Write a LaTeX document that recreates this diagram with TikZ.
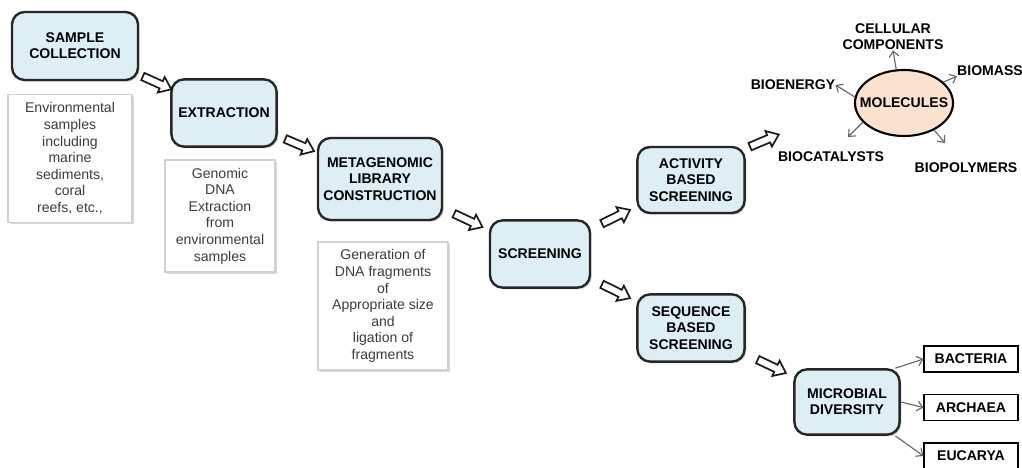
\documentclass[tikz,border=0pt]{standalone}
\usepackage{fontspec}
\setmainfont{Liberation Sans}
\usetikzlibrary{shapes.geometric,shapes.arrows,shadows,arrows.meta}

\definecolor{boxblue}{RGB}{221,238,245}
\definecolor{peach}{RGB}{251,226,206}
\definecolor{notegray}{RGB}{60,60,60}

\tikzset{
  stage/.style={draw=black!85, line width=1.7pt, rounded corners=9pt, fill=boxblue,
    align=center, inner sep=0pt, font=\fontsize{10}{11.5}\selectfont\bfseries,
    drop shadow={opacity=0.35, shadow xshift=1.2pt, shadow yshift=-1.2pt}},
  note/.style={draw=black!18, line width=0.8pt, fill=white, align=center, inner sep=0pt,
    text=notegray, font=\fontsize{10}{11.8}\selectfont,
    drop shadow={opacity=0.3, shadow xshift=1.5pt, shadow yshift=-1.5pt}},
  blockarr/.style={single arrow, draw=black!90, fill=white, line width=1.2pt,
    minimum height=0.78cm, single arrow head extend=3.2pt, single arrow tip angle=75,
    inner xsep=0pt, inner ysep=2.2pt, sloped, anchor=center},
  thinarr/.style={draw=black!60, line width=0.8pt, -{Straight Barb[length=4pt,width=7pt]}},
  product/.style={inner sep=0pt, align=center, font=\fontsize{10}{11.5}\selectfont\bfseries},
  leaf/.style={draw=black, line width=1.3pt, fill=white, minimum width=2.33cm,
    minimum height=0.65cm, inner sep=0pt, font=\fontsize{10}{11.5}\selectfont\bfseries}
}

\begin{document}
\begin{tikzpicture}[x=0.025cm, y=-0.025cm]
  \useasboundingbox (0,0) rectangle (1022,468);

  \node[stage, minimum width=3.15cm, minimum height=1.7cm] (sample) at (75,46) {SAMPLE\\COLLECTION};
  \node[stage, minimum width=2.63cm, minimum height=1.68cm] (extr) at (224,113) {EXTRACTION};
  \node[stage, minimum width=3.1cm, minimum height=2.05cm] (meta) at (380,179) {METAGENOMIC\\LIBRARY\\CONSTRUCTION};
  \node[stage, minimum width=2.5cm, minimum height=1.68cm] (screen) at (540,254) {SCREENING};
  \node[stage, minimum width=2.68cm, minimum height=1.65cm] (act) at (691,180) {ACTIVITY\\BASED\\SCREENING};
  \node[stage, minimum width=2.68cm, minimum height=1.68cm] (seq) at (691,328) {SEQUENCE\\BASED\\SCREENING};
  \node[stage, minimum width=2.63cm, minimum height=1.63cm] (mic) at (847,402) {MICROBIAL\\DIVERSITY};

  \node[note, minimum width=3.1cm, minimum height=3.18cm] (envnote) at (70,158.5)
    {Environmental\\samples\\including\\marine\\sediments,\\coral\\reefs, etc.,};
  \node[note, minimum width=2.75cm, minimum height=2.8cm] (dnanote) at (220,216)
    {Genomic\\DNA\\Extraction\\from\\environmental\\samples};
  \node[note, minimum width=3.25cm, minimum height=3.2cm] (libnote) at (383,306)
    {Generation of\\DNA fragments\\of\\Appropriate size\\and\\ligation of\\fragments};

  \node[ellipse, draw=black, line width=1.5pt, fill=peach, minimum width=2.45cm,
    minimum height=1.65cm, inner xsep=-7pt, inner ysep=0pt,
    font=\fontsize{10}{11.5}\selectfont\bfseries] (mol) at (904,103) {MOLECULES};
  \node[product] (cell) at (893,37) {CELLULAR\\COMPONENTS};
  \node[product] (bioen) at (793,85) {BIOENERGY};
  \node[product] (biomass) at (990,71) {BIOMASS};
  \node[product] (biocat) at (831,157) {BIOCATALYSTS};
  \node[product] (biopoly) at (966,168) {BIOPOLYMERS};
  \coordinate (bcend) at (848,137);
  \coordinate (bpend) at (945,143);

  \node[leaf] (bact) at (971,359) {BACTERIA};
  \node[leaf] (arch) at (971,407.5) {ARCHAEA};
  \node[leaf] (euc) at (971,456) {EUCARYA};

  \path (sample) -- node[blockarr] {} (extr);
  \path (extr) -- node[blockarr] {} (meta);
  \path (meta) -- node[blockarr] {} (screen);
  \path (screen) -- node[blockarr] {} (act);
  \path (screen) -- node[blockarr] {} (seq);
  \path (act.30) -- node[blockarr, pos=0.15] {} (mol.west);
  \path (seq) -- node[blockarr] {} (mic);

  \draw[thinarr] (mol.103) -- (cell.south);
  \draw[thinarr] (mol.173) -- (bioen.east);
  \draw[thinarr] (mol.28) -- (biomass.south west);
  \draw[thinarr] (mol.205) -- (bcend);
  \draw[thinarr] (mol.318) -- (bpend);

  \draw[thinarr] (mic.35) -- (bact.west);
  \draw[thinarr] (mic.east) -- (arch.west);
  \draw[thinarr] (mic.-35) -- (euc.west);
\end{tikzpicture}
\end{document}
